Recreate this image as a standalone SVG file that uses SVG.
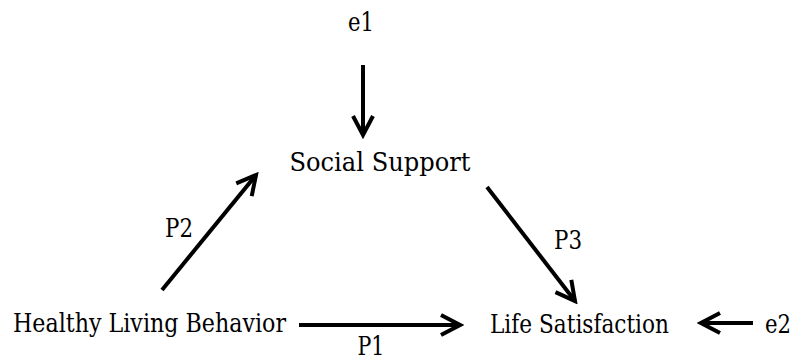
<svg xmlns="http://www.w3.org/2000/svg" width="801" height="360" viewBox="0 0 801 360">
<style>
text{font-family:"DejaVu Serif","Liberation Serif",serif;font-size:26px;fill:#000;text-anchor:middle}
.c{stroke:#000;stroke-width:4;fill:none;marker-end:url(#ah)}
</style>
<defs>
<marker id="ah" markerUnits="userSpaceOnUse" viewBox="-26 -16 30 32" refX="0" refY="0" markerWidth="30" markerHeight="32" orient="auto">
<path d="M-19,-10 L0,0 L-19,10" fill="none" stroke="#000" stroke-width="4" stroke-linejoin="miter"/>
</marker>
</defs>
<rect width="801" height="360" fill="#fff"/>
<g id="connectors">
<line class="c" x1="363" y1="65" x2="363" y2="135"/>
<line class="c" x1="162" y1="290" x2="256" y2="175"/>
<line class="c" x1="487" y1="187" x2="575" y2="301"/>
<line class="c" x1="299" y1="325" x2="460" y2="325"/>
<line class="c" x1="753" y1="323" x2="701" y2="323"/>
</g>
<g id="e1"><text x="361" y="31" textLength="26" lengthAdjust="spacingAndGlyphs">e1</text></g>
<g id="social-support"><text x="380" y="171" textLength="181" lengthAdjust="spacingAndGlyphs">Social Support</text></g>
<g id="healthy-living-behavior"><text x="149.5" y="332" textLength="273" lengthAdjust="spacingAndGlyphs">Healthy Living Behavior</text></g>
<g id="life-satisfaction"><text x="579.5" y="333" textLength="179" lengthAdjust="spacingAndGlyphs">Life Satisfaction</text></g>
<g id="e2"><text x="778" y="333" textLength="26" lengthAdjust="spacingAndGlyphs">e2</text></g>
<g id="labels">
<text x="179" y="237" textLength="28" lengthAdjust="spacingAndGlyphs">P2</text>
<text x="568" y="249" textLength="28" lengthAdjust="spacingAndGlyphs">P3</text>
<text x="371" y="355" textLength="27" lengthAdjust="spacingAndGlyphs">P1</text>
</g>
</svg>
